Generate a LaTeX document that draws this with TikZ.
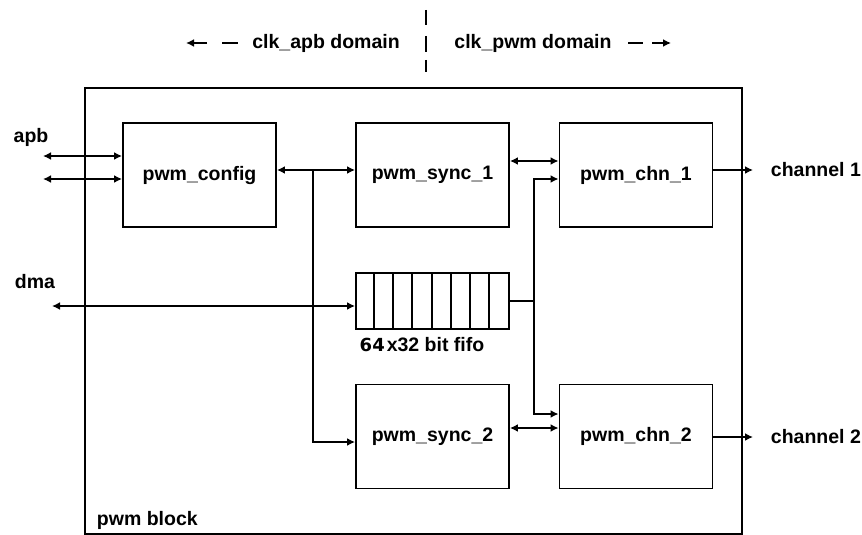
\documentclass[tikz,border=0pt]{standalone}
\usepackage{fontspec}
\setmainfont{Liberation Sans}
\newfontfamily\dvb{DejaVu Sans}
\usetikzlibrary{arrows.meta}
\begin{document}
\begin{tikzpicture}[x=1pt,y=-1pt, line width=1.9pt,
  >={Latex[length=8pt,width=8pt]},
  txt/.style={font=\bfseries\fontsize{19.5}{22}\selectfont},
  box/.style={draw, txt, minimum width=153pt, minimum height=104pt, inner sep=0pt},
  lbl/.style={txt, inner sep=0pt}]
\useasboundingbox (0,0) rectangle (862,535);

% outer block
\node[draw, minimum width=657pt, minimum height=446pt, inner sep=0pt, anchor=north west] (outer) at (84,87) {};
\node[lbl, anchor=west] (blk) at (96,520) {pwm block};

% domain header
\draw (426,10) -- (426,25);
\draw (426,36) -- (426,52);
\draw (426,60) -- (426,72);
\node[lbl] (apbdom) at (326,43) {clk\_apb domain};
\node[lbl] (pwmdom) at (533,43) {clk\_pwm domain};
\coordinate (la1) at (207,43); \coordinate (la2) at (186,43);
\coordinate (ld1) at (222,43); \coordinate (ld2) at (238,43);
\coordinate (ra1) at (652,43); \coordinate (ra2) at (671,43);
\coordinate (rd1) at (628,43); \coordinate (rd2) at (643,43);
\draw[->] (la1) -- (la2);
\draw (ld1) -- (ld2);
\draw (rd1) -- (rd2);
\draw[->] (ra1) -- (ra2);

% blocks
\node[box] (cfg) at (199.5,175) {pwm\_config};
\node[box] (s1) at (432.5,175) {pwm\_sync\_1};
\node[box] (c1) at (636,175) {pwm\_chn\_1};
\node[box] (s2) at (432.5,436.5) {pwm\_sync\_2};
\node[box] (c2) at (636,436.5) {pwm\_chn\_2};

% fifo
\node[draw, minimum width=153pt, minimum height=56pt, inner sep=0pt] (fifo) at (432.5,301) {};
\foreach \i in {1,...,7}
  \draw ([xshift=\i*19.125pt]fifo.north west) -- ([xshift=\i*19.125pt]fifo.south west);
\node[lbl] (fifolbl) at (422,345) {{\dvb\bfseries\fontsize{18}{22}\selectfont 64}\kern2pt x32 bit fifo};

% external labels
\node[lbl] (apb) at (31,137) {apb};
\node[lbl] (dma) at (35,282) {dma};
\node[lbl, anchor=west] (ch1) at (770,170) {channel 1};
\node[lbl, anchor=west] (ch2) at (770,437) {channel 2};

% apb
\coordinate (apb1) at (43,156);
\coordinate (apb2) at (43,179);
\draw[<->] (apb1) -- (apb1 -| cfg.west);
\draw[<->] (apb2) -- (apb2 -| cfg.west);

% config bus
\coordinate (bus1) at (313,170);
\coordinate (bus2) at (313,442);
\draw[<->] (bus1 -| cfg.east) -- (bus1 -| s1.west);
\draw[->] (bus1) -- (bus2) -- (bus2 -| s2.west);

% dma
\coordinate (dmaL) at (52,306);
\draw[<->] (dmaL) -- (dmaL -| fifo.west);

% fifo out
\coordinate (fo) at (534,301);
\coordinate (fu) at (534,179);
\coordinate (fd) at (534,414);
\draw (fo -| fifo.east) -- (fo);
\draw[->] (fo) -- (fu) -- (fu -| c1.west);
\draw[->] (fo) -- (fd) -- (fd -| c2.west);

% sync <-> chn
\coordinate (sc1) at (509,161);
\coordinate (sc2) at (509,428);
\draw[<->] (sc1 -| s1.east) -- (sc1 -| c1.west);
\draw[<->] (sc2 -| s2.east) -- (sc2 -| c2.west);

% outputs
\coordinate (o1) at (753,170);
\coordinate (o2) at (753,437);
\draw[->] (o1 -| c1.east) -- (o1);
\draw[->] (o2 -| c2.east) -- (o2);
\end{tikzpicture}
\end{document}
